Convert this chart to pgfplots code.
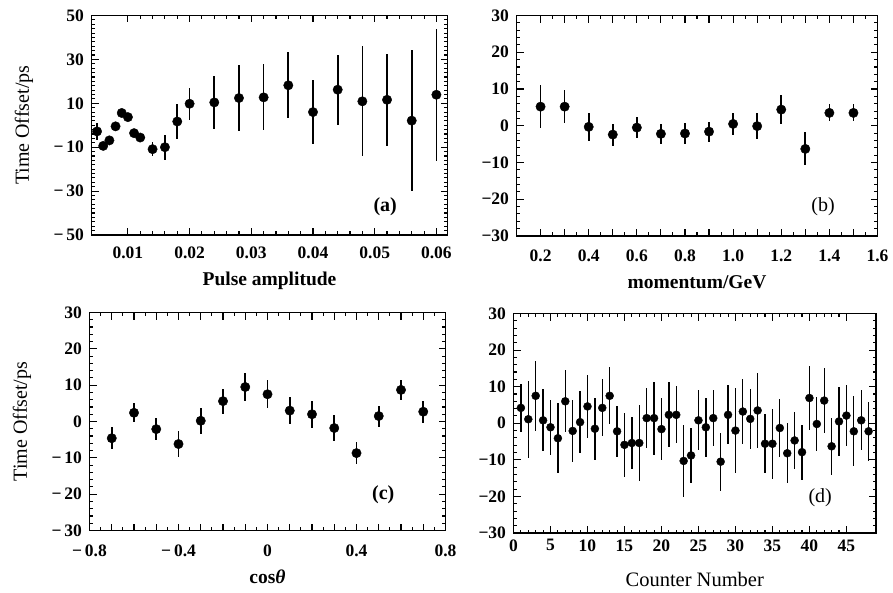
\documentclass[border=0pt]{standalone}
\usepackage{pgfplots}
\pgfplotsset{compat=1.18}
\usepackage{fontspec}
\setmainfont{Liberation Serif}
\pgfplotstableread{
x y e
0.005 -2.8 4
0.006 -9.4 1.5
0.007 -6.9 1.5
0.008 -0.5 1.2
0.009 5.6 1.2
0.010 3.7 1.2
0.011 -3.6 1.2
0.012 -5.6 1.5
0.014 -10.9 3.3
0.016 -10.0 5.7
0.018 1.7 7.8
0.020 9.8 7.2
0.024 10.4 12
0.028 12.4 15
0.032 12.7 15
0.036 18.2 15
0.040 6.0 14.6
0.044 16.2 16
0.048 10.9 25
0.052 11.6 21
0.056 2.1 32
0.060 13.9 30
}\dataA
\pgfplotstableread{
x y e
0.2 5.2 5.8
0.3 5.2 4.4
0.4 -0.3 3.9
0.5 -2.4 3.0
0.6 -0.5 2.9
0.7 -2.2 2.8
0.8 -2.1 2.8
0.9 -1.6 2.7
1.0 0.5 3.0
1.1 -0.1 3.5
1.2 4.4 3.9
1.3 -6.3 4.5
1.4 3.5 2.3
1.5 3.5 2.3
}\dataB
\pgfplotstableread{
x y e
-0.7 -4.6 3.0
-0.6 2.4 2.6
-0.5 -2.1 3.0
-0.4 -6.2 3.5
-0.3 0.2 3.6
-0.2 5.6 3.4
-0.1 9.5 3.9
0.0 7.5 3.9
0.1 3.0 3.7
0.2 2.0 3.7
0.3 -1.8 3.6
0.4 -8.7 3.1
0.5 1.5 2.9
0.6 8.7 2.8
0.7 2.7 3.0
}\dataC
\pgfplotstableread{
x y e
1 4.2 6.5
2 1.1 10.5
3 7.5 9.6
4 0.8 8.5
5 -1.1 7.5
6 -4.1 9.5
7 6.0 8.5
8 -2.1 8.5
9 0.3 8.5
10 4.6 8.5
11 -1.5 8.5
12 4.2 7.8
13 7.5 7.8
14 -2.2 7.0
15 -5.9 8.8
16 -5.4 7.0
17 -5.4 10.3
18 1.4 8.2
19 1.4 10.0
20 -1.6 8.5
21 2.3 8.9
22 2.3 7.8
23 -10.3 9.8
24 -8.8 7.4
25 0.8 8.2
26 -1.1 8.0
27 1.4 7.7
28 -10.5 7.9
29 2.3 8.1
30 -2.0 11.5
31 3.2 8.8
32 1.2 8.2
33 3.5 10.3
34 -5.6 8.1
35 -5.6 9.6
36 -1.3 8.0
37 -8.2 8.2
38 -4.7 7.8
39 -7.9 7.5
40 6.9 8.8
41 -0.2 7.5
42 6.2 8.9
43 -6.3 7.8
44 0.5 9.4
45 2.1 8.3
46 -2.2 9.6
47 0.8 8.2
48 -2.2 8.0
}\dataD
\begin{document}
\begin{tikzpicture}
\path[use as bounding box] (0pt,0pt) rectangle (893pt,592pt);
\pgfplotsset{
  pp/.style={
    scale only axis, anchor=south west,
    tick align=inside,
    xtick pos=both, ytick pos=both,
    major tick length=7pt, minor tick length=3.5pt,
    every tick/.style={black, line width=1.1pt},
    axis line style={line width=1.9pt},
    tick label style={font=\fontsize{17.5}{19}\selectfont\bfseries},
    yticklabel style={xshift=-4pt},
    label style={font=\fontsize{19.5}{21}\selectfont\bfseries},
    xlabel style={at={(axis description cs:0.5,-0.21)}, anchor=center},
    ylabel style={at={(axis description cs:-0.19,0.5)}, anchor=center, font=\fontsize{20}{22}\selectfont},
    scaled ticks=false,
  },
  dots/.style={black, only marks, mark=*, mark size=4.7pt,
    error bars/y dir=both, error bars/y explicit,
    error bars/error bar style={line width=1.7pt}, error bars/error mark=none},
}
% (a)
\begin{axis}[pp, at={(91.5pt,357pt)}, width=356pt, height=219.5pt,
  xticklabel style={yshift=-8pt},
  xmin=0.0041, xmax=0.0618, ymin=-50, ymax=50,
  xtick={0.01,0.02,0.03,0.04,0.05,0.06},
  xticklabels={0.01,0.02,0.03,0.04,0.05,0.06},
  minor x tick num=4,
  ytick={-50,-30,-10,10,30,50},
  yticklabels={−\,50,−\,30,−\,10,10,30,50},
  minor y tick num=9,
  xlabel={Pulse amplitude}, ylabel={Time Offset/ps}]
\addplot[dots] table[x=x,y=y,y error=e]{\dataA};
\node[font=\fontsize{20}{22}\selectfont\bfseries] at (rel axis cs:0.825,0.13) {(a)};
\end{axis}
% (b)
\begin{axis}[pp, at={(516.5pt,356pt)}, width=361pt, height=220.5pt,
  xticklabel style={yshift=-10pt},
  xmin=0.1, xmax=1.6, ymin=-30, ymax=30,
  xtick={0.2,0.3,0.4,0.5,0.6,0.7,0.8,0.9,1.0,1.1,1.2,1.3,1.4,1.5,1.6},
  xticklabels={0.2,,0.4,,0.6,,0.8,,1.0,,1.2,,1.4,,1.6},
  minor x tick num=1,
  ytick={-30,-20,-10,0,10,20,30},
  yticklabels={−30,−20,−10,0,10,20,30},
  minor y tick num=4,
  xlabel={momentum/GeV}]
\addplot[dots] table[x=x,y=y,y error=e]{\dataB};
\node[font=\fontsize{20}{22}\selectfont] at (rel axis cs:0.849,0.133) {(b)};
\end{axis}
% (c)
\begin{axis}[pp, at={(89.5pt,61.5pt)}, width=356pt, height=218pt,
  xticklabel style={yshift=-11pt},
  xmin=-0.8, xmax=0.8, ymin=-30, ymax=30,
  xtick={-0.8,-0.7,-0.6,-0.5,-0.4,-0.3,-0.2,-0.1,0,0.1,0.2,0.3,0.4,0.5,0.6,0.7,0.8},
  xticklabels={−\,0.8,,,,−\,0.4,,,,0,,,,0.4,,,,0.8},
  minor x tick num=1,
  ytick={-30,-20,-10,0,10,20,30},
  yticklabels={−\,30,−\,20,−\,10,0,10,20,30},
  minor y tick num=4,
  xlabel={cos\textit{θ}}, ylabel={Time Offset/ps}]
\addplot[dots] table[x=x,y=y,y error=e]{\dataC};
\node[font=\fontsize{20}{22}\selectfont\bfseries] at (rel axis cs:0.825,0.164) {(c)};
\end{axis}
% (d)
\begin{axis}[pp, at={(513.5pt,59pt)}, width=362.5pt, height=219.5pt,
  xticklabel style={yshift=-3pt},
  xmin=0, xmax=49, ymin=-30, ymax=30,
  xtick={0,5,10,15,20,25,30,35,40,45},
  xticklabels={0,5,10,15,20,25,30,35,40,45},
  minor x tick num=4,
  ytick={-30,-20,-10,0,10,20,30},
  yticklabels={−30,−20,−10,0,10,20,30},
  minor y tick num=4,
  xlabel={\mdseries\fontsize{20.5}{22}\selectfont Counter Number}]
\addplot[dots, mark size=4pt, error bars/error bar style={line width=1.3pt}] table[x=x,y=y,y error=e]{\dataD};
\node[font=\fontsize{20}{22}\selectfont] at (rel axis cs:0.846,0.16) {(d)};
\end{axis}
\end{tikzpicture}
\end{document}
